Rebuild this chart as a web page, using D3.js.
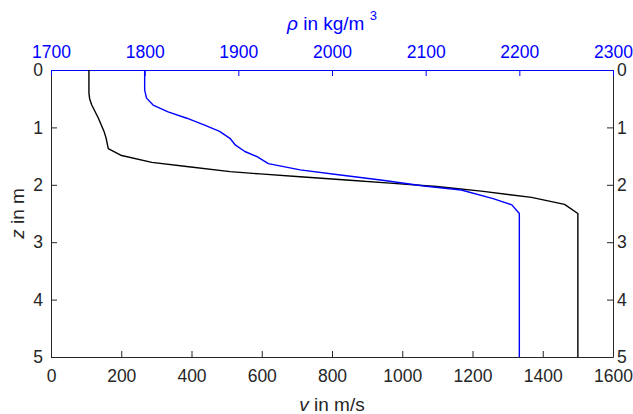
<!DOCTYPE html>
<html>
<head>
<meta charset="utf-8">
<script src="https://cdn.jsdelivr.net/npm/d3@7"></script>
<style>
  html, body { margin: 0; padding: 0; background: #fff; }
  svg { display: block; font-family: "Liberation Sans", Arial, Helvetica, sans-serif; }
</style>
</head>
<body>
<svg id="chart" width="633" height="414"></svg>
<script>
// ---- data ----
const velocityDepth = [0, 0.4, 0.5, 0.61, 0.84, 1.07, 1.19, 1.37, 1.49, 1.61, 1.68, 1.77, 1.81, 1.86, 1.92, 1.97, 2.03, 2.11, 2.22, 2.34, 2.5, 5];
const velocity      = [108, 108, 110, 116, 135, 151, 157, 163, 201, 287, 386, 510, 595, 709, 851, 965, 1098, 1225, 1368, 1462, 1500, 1500];

const densityDepth  = [0, 0.35, 0.49, 0.61, 0.73, 0.84, 0.96, 1.07, 1.19, 1.31, 1.42, 1.51, 1.63, 1.74, 1.83, 1.92, 2.02, 2.09, 2.24, 2.35, 2.5, 5];
const density       = [1800, 1800, 1802, 1809, 1825, 1845, 1864, 1880, 1891, 1897, 1907, 1920, 1932, 1966, 2009, 2054, 2098, 2138, 2172, 2192, 2200, 2200];

const depthTicks    = [0, 1, 2, 3, 4, 5];
const velocityTicks = [0, 200, 400, 600, 800, 1000, 1200, 1400, 1600];
const densityTicks  = [1700, 1800, 1900, 2000, 2100, 2200, 2300];

// ---- layout ----
const L = 51, R = 613, T = 70, B = 357;
const axisColor = "#262626";
const blue = "#0000ff";
const tickFont = "17.5px";
const labelFont = "19px";

const svg = d3.select("#chart");

const x = d3.scaleLinear().domain([0, 1600]).range([L, R]);
const xTop = d3.scaleLinear().domain([1700, 2300]).range([L, R]);
const y = d3.scaleLinear().domain([0, 5]).range([T, B]);

function styleAxis(g, color) {
  g.select(".domain").attr("stroke", color).attr("stroke-width", 1);
  g.selectAll(".tick line").attr("stroke", color).attr("stroke-width", 1);
  g.selectAll(".tick text").attr("fill", color).style("font-size", tickFont)
    .style("font-family", '"Liberation Sans", Arial, sans-serif');
}

// left axis
svg.append("g").attr("transform", `translate(${L},0)`)
  .call(d3.axisLeft(y).tickValues(depthTicks).tickFormat(d3.format("d"))
    .tickSizeInner(-6).tickSizeOuter(0).tickPadding(8))
  .call(g => styleAxis(g, axisColor));

// right axis
svg.append("g").attr("transform", `translate(${R},0)`)
  .call(d3.axisRight(y).tickValues(depthTicks).tickFormat(d3.format("d"))
    .tickSizeInner(-6).tickSizeOuter(0).tickPadding(4))
  .call(g => styleAxis(g, axisColor));

// bottom axis
svg.append("g").attr("transform", `translate(0,${B})`)
  .call(d3.axisBottom(x).tickValues(velocityTicks).tickFormat(d3.format("d"))
    .tickSizeInner(-6).tickSizeOuter(0).tickPadding(13))
  .call(g => styleAxis(g, axisColor));

// top axis (density)
svg.append("g").attr("transform", `translate(0,${T})`)
  .call(d3.axisTop(xTop).tickValues(densityTicks).tickFormat(d3.format("d"))
    .tickSizeInner(-6).tickSizeOuter(0).tickPadding(12))
  .call(g => styleAxis(g, blue));

// ---- lines ----
const vData = velocityDepth.map((z, i) => ({ z, v: velocity[i] }));
const rData = densityDepth.map((z, i) => ({ z, r: density[i] }));

svg.append("path").datum(vData)
  .attr("fill", "none").attr("stroke", "#000").attr("stroke-width", 1.4)
  .attr("stroke-linejoin", "round")
  .attr("d", d3.line().x(d => x(d.v)).y(d => y(d.z)));

svg.append("path").datum(rData)
  .attr("fill", "none").attr("stroke", blue).attr("stroke-width", 1.4)
  .attr("stroke-linejoin", "round")
  .attr("d", d3.line().x(d => xTop(d.r)).y(d => y(d.z)));

// ---- axis labels ----
const cx = (L + R) / 2;

const xl = svg.append("text").attr("x", cx).attr("y", 411)
  .attr("text-anchor", "middle").attr("fill", axisColor).style("font-size", labelFont);
xl.append("tspan").style("font-style", "italic").text("v");
xl.append("tspan").text(" in m/s");

const yl = svg.append("text")
  .attr("transform", `translate(24,${(T + B) / 2}) rotate(-90)`)
  .attr("text-anchor", "middle").attr("fill", axisColor).style("font-size", labelFont);
yl.append("tspan").style("font-style", "italic").text("z");
yl.append("tspan").text(" in m");

const tl = svg.append("text").attr("x", cx).attr("y", 30)
  .attr("text-anchor", "middle").attr("fill", blue).style("font-size", labelFont);
tl.append("tspan").style("font-style", "italic").text("ρ");
tl.append("tspan").text(" in kg/m ");
tl.append("tspan").attr("dy", -10).style("font-size", "13px").text("3");
</script>
</body>
</html>
